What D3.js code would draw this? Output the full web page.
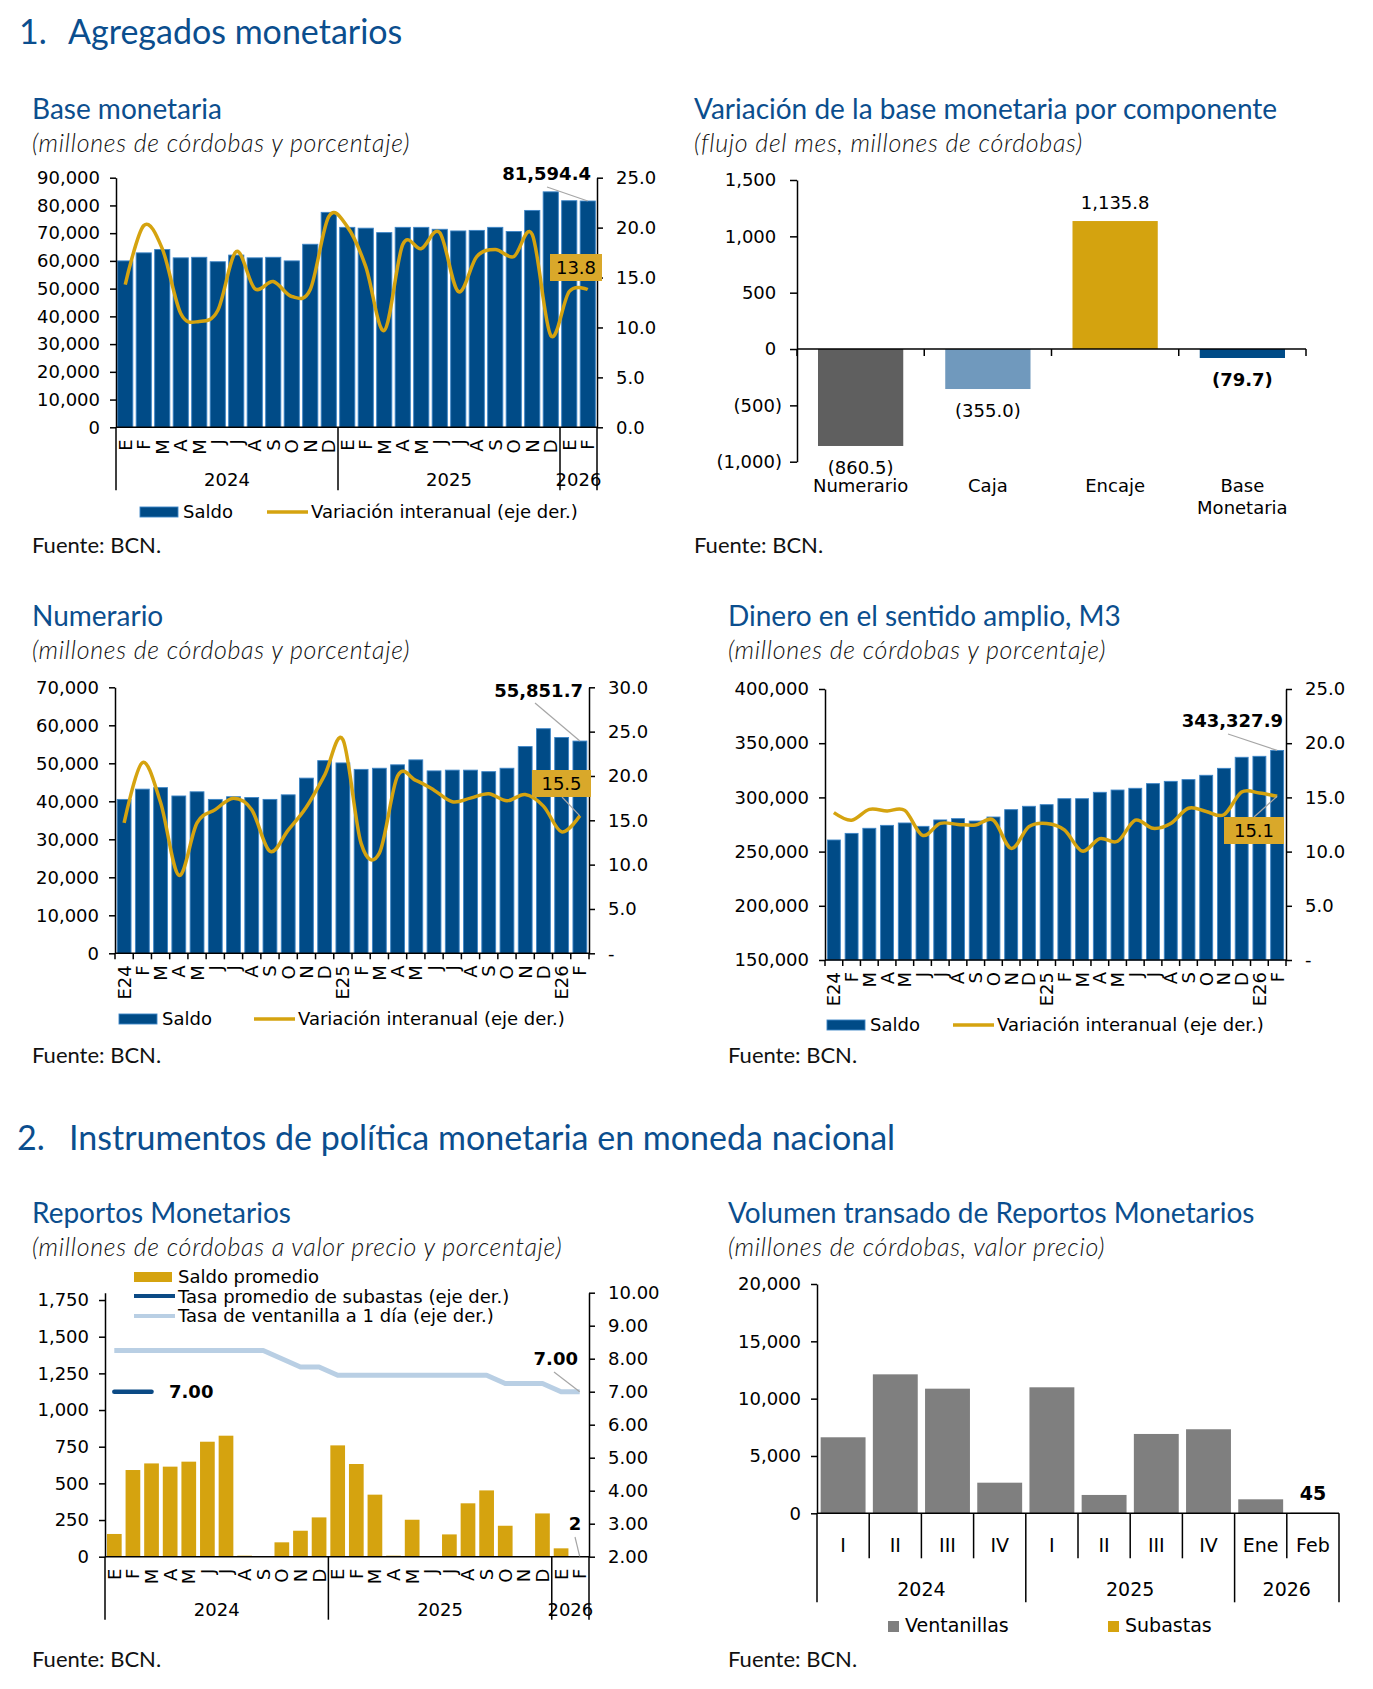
<!DOCTYPE html>
<html lang="es">
<head>
<meta charset="utf-8">
<title>Agregados monetarios</title>
<script src="https://cdn.jsdelivr.net/npm/d3@7/dist/d3.min.js"></script>
<style>
  body { margin: 0; background: #fff; }
  text { font-family: "DejaVu Sans", Verdana, sans-serif; fill: #000; }
  .seccion { font-family: Lato, sans-serif; font-size: 34px; fill: #0b4e8e; }
  .titulo { font-family: Lato, sans-serif; font-size: 28px; fill: #0b4e8e; }
  .subtitulo { font-family: Lato, sans-serif; font-size: 25px; font-style: italic; font-weight: 300; letter-spacing: 0.7px; fill: #111; }
  .fuente { font-family: Lato, sans-serif; font-size: 22px; fill: #111; }
  .tick text { font-family: "DejaVu Sans", Verdana, sans-serif; font-size: 18px; fill: #000; }
  .tick line, .domain { stroke: #000; stroke-width: 1.5; }
</style>
</head>
<body>
<svg id="hoja" width="1373" height="1689"></svg>
<script>
// datos

// meses (2024, 2025 y ene-feb 2026)
const mesesLetra = ["E","F","M","A","M","J","J","A","S","O","N","D",
                    "E","F","M","A","M","J","J","A","S","O","N","D","E","F"];
const mesesEtiq = ["E24","F","M","A","M","J","J","A","S","O","N","D",
                   "E25","F","M","A","M","J","J","A","S","O","N","D","E26","F"];
const aniosMes = ["2024","2024","2024","2024","2024","2024","2024","2024","2024","2024","2024","2024",
                  "2025","2025","2025","2025","2025","2025","2025","2025","2025","2025","2025","2025",
                  "2026","2026"];

// base monetaria
const baseSaldo = [60000,62900,64100,61100,61300,59700,62100,61100,61300,60000,66000,77500,
                   72100,71800,70200,72100,72100,71400,70800,71000,72100,70600,78200,84900,81700,81594.4];
const baseVar = [14.3,20.2,17.9,11.4,10.6,11.7,17.6,13.9,14.6,13.1,13.8,21.1,
                 20.1,16.1,9.7,18.3,17.9,19.5,13.6,17.1,17.8,17.1,19.3,9.2,13.6,13.8];

// variacion por componente
const compNombres = [["Numerario"],["Caja"],["Encaje"],["Base","Monetaria"]];
const compValores = [-860.5,-355.0,1135.8,-79.7];

// numerario
const numSaldo = [40500,43200,43600,41400,42500,40500,41200,41000,40500,41700,46100,50700,
                  50100,48400,48700,49600,50900,48000,48200,48200,47800,48700,54400,59100,56800,55851.7];
const numVar = [14.7,21.5,17.0,8.8,14.7,16.2,17.5,16.2,11.5,13.9,16.5,20.1,
                24.1,12.4,11.3,20.0,19.5,18.4,17.1,17.5,18.0,17.2,17.9,16.6,13.7,15.5];

// M3
const m3Saldo = [260700,266800,271500,274200,276400,273300,279200,280400,278200,281900,288700,291800,
                 293300,298800,298800,304700,306800,308400,312700,314800,316400,320400,326800,337000,337900,343327.9];
const m3Var = [13.6,12.9,13.9,13.75,13.8,11.5,12.6,12.5,12.45,12.9,10.3,12.3,
               12.6,12.0,10.05,11.2,10.95,12.9,12.15,12.6,14.0,13.7,13.4,15.5,15.4,15.1];

// reportos monetarios
const repSaldo = [155,591,636,614,648,784,825,7,0,98,177,268,
                  759,632,423,7,252,0,152,364,452,211,0,295,57,2];
const repSubasta = [7.00,7.00,7.00,null,null,null,null,null,null,null,null,null,
                    null,null,null,null,null,null,null,null,null,null,null,null,null,null];
const repVentanilla = [8.25,8.25,8.25,8.25,8.25,8.25,8.25,8.25,8.25,8.00,7.75,7.75,
                       7.50,7.50,7.50,7.50,7.50,7.50,7.50,7.50,7.50,7.25,7.25,7.25,7.00,7.00];

// volumen transado
const volCats = ["I","II","III","IV","I","II","III","IV","Ene","Feb"];
const volAnios = ["2024","2024","2024","2024","2025","2025","2025","2025","2026","2026"];
const volVentanillas = [6630,12120,10870,2670,10990,1600,6920,7330,1220,45];
const volSubastas = [0,0,0,0,0,0,0,0,0,0];

// colores
const azul = "#004b87";
const oro = "#d5a30f";
const caja = "#d9a82a";
const celeste = "#b9cfe4";
const compColores = ["#5f5f5f","#7099bd","#d4a30f","#004b87"];

const hoja = d3.select("#hoja");
const fmtMiles = d3.format(",");

// titulos de seccion
hoja.append("text").attr("class","seccion").attr("x",19).attr("y",44).text("1.");
hoja.append("text").attr("class","seccion").attr("x",68).attr("y",44).text("Agregados monetarios");
hoja.append("text").attr("class","seccion").attr("x",17).attr("y",1150).text("2.");
hoja.append("text").attr("class","seccion").attr("x",69).attr("y",1150)
    .text("Instrumentos de política monetaria en moneda nacional");

function encabezado(x, y, titulo, subtitulo, yFuente) {
  hoja.append("text").attr("class","titulo").attr("x",x).attr("y",y).text(titulo);
  hoja.append("text").attr("class","subtitulo").attr("x",x).attr("y",y + 33).text(subtitulo);
  hoja.append("text").attr("class","fuente").attr("x",x).attr("y",yFuente).text("Fuente: BCN.");
}

function linea(g, x1, y1, x2, y2, color, ancho) {
  return g.append("line").attr("x1",x1).attr("y1",y1).attr("x2",x2).attr("y2",y2)
    .attr("stroke",color).attr("stroke-width",ancho);
}

// grafico de barras con linea en eje derecho
function combo(c) {
  const g = hoja.append("g");
  const n = c.saldo.length;
  const x = d3.scaleBand().domain(d3.range(n)).range([c.x0, c.x1])
      .paddingInner(c.pad).paddingOuter(c.pad / 2);
  const yL = d3.scaleLinear().domain(c.yDom).range([c.yBot, c.yTop]);
  const yR = d3.scaleLinear().domain(c.y2Dom).range([c.yBot, c.yTop]);
  const cx = i => x(i) + x.bandwidth() / 2;

  if (c.barras) {
    g.append("g").selectAll("rect").data(c.saldo).join("rect")
      .attr("x",(d,i) => x(i)).attr("width",x.bandwidth())
      .attr("y",d => yL(d)).attr("height",d => yL(c.yDom[0]) - yL(d))
      .attr("fill",c.colorBarra)
      .attr("stroke",c.bordeBarra || "none").attr("stroke-width",0.9);
  }

  g.append("g").attr("transform",`translate(${c.x0},0)`)
    .call(d3.axisLeft(yL).tickValues(c.yTicks).tickFormat(fmtMiles)
      .tickSize(6).tickSizeOuter(0).tickPadding(10));
  g.append("g").attr("transform",`translate(${c.x1},0)`)
    .call(d3.axisRight(yR).tickValues(c.y2Ticks).tickFormat(c.y2Fmt)
      .tickSize(6).tickSizeOuter(0).tickPadding(13));

  linea(g, c.x0, c.yBot, c.x1, c.yBot, "#000", 1.5);

  const r0 = x.range()[0], paso = x.step();
  if (c.tipoEje === "anios") {
    g.selectAll("text.mes").data(c.meses).join("text").attr("class","mes")
      .attr("transform",(d,i) => `translate(${cx(i)},${c.yBot + 12}) rotate(-90)`)
      .attr("text-anchor","end").attr("dy","0.36em").attr("font-size",18).text(d => d);
    const grupos = d3.groups(d3.range(n), i => c.anios[i]);
    const cortes = grupos.map(gr => gr[1][0]).concat([n]);
    g.selectAll("line.sep").data(cortes).join("line").attr("class","sep")
      .attr("x1",i => r0 + i * paso).attr("x2",i => r0 + i * paso)
      .attr("y1",c.yBot).attr("y2",c.yBot + 63)
      .attr("stroke","#000").attr("stroke-width",1.5);
    g.selectAll("text.anio").data(grupos).join("text").attr("class","anio")
      .attr("x",gr => r0 + (gr[1][0] + gr[1].length / 2) * paso)
      .attr("y",c.yBot + 59).attr("text-anchor","middle").attr("font-size",18)
      .text(gr => gr[0]);
  } else {
    g.selectAll("line.marca").data(d3.range(n + 1)).join("line").attr("class","marca")
      .attr("x1",i => r0 + i * paso).attr("x2",i => r0 + i * paso)
      .attr("y1",c.yBot).attr("y2",c.yBot + 6)
      .attr("stroke","#000").attr("stroke-width",1.5);
    g.selectAll("text.mes").data(c.meses).join("text").attr("class","mes")
      .attr("transform",(d,i) => `translate(${cx(i)},${c.yBot + 12}) rotate(-90)`)
      .attr("text-anchor","end").attr("dy","0.36em").attr("font-size",18).text(d => d);
  }

  (c.lineas || []).forEach(l => {
    g.append("path").datum(l.datos)
      .attr("fill","none").attr("stroke",l.color).attr("stroke-width",l.ancho)
      .attr("stroke-linecap",l.tapa || "butt").attr("stroke-linejoin","round")
      .attr("d",d3.line().defined(d => d != null)
        .x((d,i) => cx(i)).y(d => yR(d)).curve(l.curva));
  });

  return {g, x, yL, yR, cx};
}

function leyendaSaldo(g, xs, y, xl, yl) {
  g.append("rect").attr("x",xs).attr("y",y - 5).attr("width",38).attr("height",10)
    .attr("fill",azul).attr("stroke","#3d85c6").attr("stroke-width",0.9);
  g.append("text").attr("x",xs + 43).attr("y",y + 6).attr("font-size",18).text("Saldo");
  linea(g, xl, y, xl + 41, y, oro, 3.5);
  g.append("text").attr("x",xl + 44).attr("y",y + 6).attr("font-size",18)
    .text("Variación interanual (eje der.)");
}

function cajaValor(g, x, y, ancho, texto) {
  g.append("rect").attr("x",x).attr("y",y).attr("width",ancho).attr("height",27).attr("fill",caja);
  g.append("text").attr("x",x + ancho / 2).attr("y",y + 20).attr("text-anchor","middle")
    .attr("font-size",18).text(texto);
}

const suave = d3.curveCardinal.tension(0);
const uno = d => d.toFixed(1);
const unoGuion = d => d === 0 ? "-" : d.toFixed(1);

// 1) Base monetaria
encabezado(32, 119, "Base monetaria", "(millones de córdobas y porcentaje)", 553);
const c1 = combo({
  saldo: baseSaldo, barras: true, colorBarra: azul, bordeBarra: "#3d85c6",
  x0: 116, x1: 597, yTop: 177.7, yBot: 427.3, pad: 0.18,
  yDom: [0, 90000], yTicks: d3.range(0, 90001, 10000),
  y2Dom: [0, 25], y2Ticks: d3.range(0, 26, 5), y2Fmt: uno,
  tipoEje: "anios", meses: mesesLetra, anios: aniosMes,
  lineas: [{datos: baseVar, color: oro, ancho: 3.5, curva: suave}]
});
c1.g.append("text").attr("x",591).attr("y",180).attr("text-anchor","end")
  .attr("font-size",18).attr("font-weight","bold").text(fmtMiles(baseSaldo[25]));
linea(c1.g, 547, 187, c1.cx(25), c1.yL(baseSaldo[25]), "#a6a6a6", 1.2);
cajaValor(c1.g, 550, 254, 52, uno(baseVar[25]));
leyendaSaldo(c1.g, 140, 512, 267, 512);

// 2) Variacion de la base monetaria por componente
encabezado(694, 119, "Variación de la base monetaria por componente",
           "(flujo del mes, millones de córdobas)", 553);
{
  const g = hoja.append("g");
  const x = d3.scaleBand().domain(d3.range(compValores.length)).range([797, 1306])
      .paddingInner(0.33).paddingOuter(0.165);
  const y = d3.scaleLinear().domain([-1000, 1500]).range([461.7, 180]);
  const fmtComp = v => v < 0 ? "(" + fmtMiles(-v) + ")" : fmtMiles(v) + "\u00a0";
  g.selectAll("rect").data(compValores).join("rect")
    .attr("x",(d,i) => x(i)).attr("width",x.bandwidth())
    .attr("y",d => y(Math.max(0, d))).attr("height",d => Math.abs(y(d) - y(0)))
    .attr("fill",(d,i) => compColores[i]);
  g.append("g").attr("transform","translate(797,0)")
    .call(d3.axisLeft(y).tickValues(d3.range(-1000, 1501, 500)).tickFormat(fmtComp)
      .tickSize(7).tickSizeOuter(0).tickPadding(8));
  linea(g, 797, y(0), 1306, y(0), "#000", 1.5);
  const paso = x.step();
  g.selectAll("line.marca").data(d3.range(compValores.length + 1)).join("line")
    .attr("x1",i => 797 + i * paso).attr("x2",i => 797 + i * paso)
    .attr("y1",y(0)).attr("y2",y(0) + 7).attr("stroke","#000").attr("stroke-width",1.5);
  const fmtEtq = d3.format(",.1f");
  g.selectAll("text.valor").data(compValores).join("text")
    .attr("x",(d,i) => x(i) + x.bandwidth() / 2)
    .attr("y",d => d >= 0 ? y(d) - 12 : y(d) + 28)
    .attr("text-anchor","middle").attr("font-size",18)
    .attr("font-weight",(d,i) => i === compValores.length - 1 ? "bold" : "normal")
    .text(d => d < 0 ? "(" + fmtEtq(-d) + ")" : fmtEtq(d));
  compNombres.forEach((nom, i) => {
    nom.forEach((t, k) => {
      g.append("text").attr("x",x(i) + x.bandwidth() / 2).attr("y",492 + k * 22)
        .attr("text-anchor","middle").attr("font-size",18).text(t);
    });
  });
}

// 3) Numerario
encabezado(32, 626, "Numerario", "(millones de córdobas y porcentaje)", 1063);
const c3 = combo({
  saldo: numSaldo, barras: true, colorBarra: azul, bordeBarra: "#3d85c6",
  x0: 115, x1: 589, yTop: 687.3, yBot: 953.3, pad: 0.24,
  yDom: [0, 70000], yTicks: d3.range(0, 70001, 10000),
  y2Dom: [0, 30], y2Ticks: d3.range(0, 31, 5), y2Fmt: unoGuion,
  tipoEje: "marcas", meses: mesesEtiq,
  lineas: [{datos: numVar, color: oro, ancho: 3.5, curva: suave}]
});
c3.g.append("text").attr("x",583).attr("y",697).attr("text-anchor","end")
  .attr("font-size",18).attr("font-weight","bold").text(fmtMiles(numSaldo[25]));
linea(c3.g, 535, 703, c3.cx(25), c3.yL(numSaldo[25]), "#a6a6a6", 1.2);
linea(c3.g, 562, 797, c3.cx(25), c3.yR(numVar[25]), "#a6a6a6", 1.2);
cajaValor(c3.g, 532, 770, 59, uno(numVar[25]));
leyendaSaldo(c3.g, 119, 1019, 254, 1019);

// 4) Dinero en el sentido amplio, M3
encabezado(728, 626, "Dinero en el sentido amplio, M3", "(millones de córdobas y porcentaje)", 1063);
const c4 = combo({
  saldo: m3Saldo, barras: true, colorBarra: azul, bordeBarra: "#3d85c6",
  x0: 825, x1: 1286, yTop: 689, yBot: 960, pad: 0.27,
  yDom: [150000, 400000], yTicks: d3.range(150000, 400001, 50000),
  y2Dom: [0, 25], y2Ticks: d3.range(0, 26, 5), y2Fmt: unoGuion,
  tipoEje: "marcas", meses: mesesEtiq,
  lineas: [{datos: m3Var, color: oro, ancho: 3.5, curva: suave}]
});
c4.g.append("text").attr("x",1283).attr("y",727).attr("text-anchor","end")
  .attr("font-size",18).attr("font-weight","bold").text(fmtMiles(m3Saldo[25]));
linea(c4.g, 1228, 734, c4.cx(25), c4.yL(m3Saldo[25]), "#a6a6a6", 1.2);
linea(c4.g, 1254, 817, c4.cx(25), c4.yR(m3Var[25]), "#a6a6a6", 1.2);
cajaValor(c4.g, 1224, 817, 60, uno(m3Var[25]));
leyendaSaldo(c4.g, 827, 1025, 953, 1025);

// 5) Reportos monetarios
encabezado(32, 1223, "Reportos Monetarios",
           "(millones de córdobas a valor precio y porcentaje)", 1667);
const c5 = combo({
  saldo: repSaldo, barras: true, colorBarra: oro,
  x0: 105, x1: 589, yTop: 1292.7, yBot: 1556.7, pad: 0.21,
  yDom: [0, 1800], yTicks: d3.range(0, 1751, 250),
  y2Dom: [2, 10], y2Ticks: d3.range(2, 10.01, 1), y2Fmt: d => d.toFixed(2),
  tipoEje: "anios", meses: mesesLetra, anios: aniosMes,
  lineas: [
    {datos: repVentanilla, color: celeste, ancho: 5, curva: d3.curveLinear},
    {datos: repSubasta, color: "#0b4a85", ancho: 4.5, curva: d3.curveLinear, tapa: "round"}
  ]
});
c5.g.append("text").attr("x",578).attr("y",1365).attr("text-anchor","end")
  .attr("font-size",18).attr("font-weight","bold").text(repVentanilla[25].toFixed(2));
linea(c5.g, 554, 1372, c5.cx(25), c5.yR(repVentanilla[25]), "#a6a6a6", 1.2);
c5.g.append("text").attr("x",169).attr("y",1398)
  .attr("font-size",18).attr("font-weight","bold").text(repSubasta[0].toFixed(2));
c5.g.append("text").attr("x",575).attr("y",1530).attr("text-anchor","middle")
  .attr("font-size",18).attr("font-weight","bold").text(repSaldo[25]);
linea(c5.g, 575, 1537, c5.cx(25), c5.yL(repSaldo[25]), "#a6a6a6", 1.2);
// leyenda
c5.g.append("rect").attr("x",134).attr("y",1272).attr("width",38).attr("height",10).attr("fill",oro);
c5.g.append("text").attr("x",178).attr("y",1283).attr("font-size",18).text("Saldo promedio");
linea(c5.g, 134, 1296, 175, 1296, "#0b4a85", 4);
c5.g.append("text").attr("x",178).attr("y",1303).attr("font-size",18)
  .text("Tasa promedio de subastas (eje der.)");
linea(c5.g, 134, 1316, 175, 1316, celeste, 4);
c5.g.append("text").attr("x",178).attr("y",1322).attr("font-size",18)
  .text("Tasa de ventanilla a 1 día (eje der.)");

// 6) Volumen transado de reportos monetarios
encabezado(728, 1223, "Volumen transado de Reportos Monetarios",
           "(millones de córdobas, valor precio)", 1667);
{
  const g = hoja.append("g");
  const n = volCats.length;
  const x = d3.scaleBand().domain(d3.range(n)).range([817, 1339])
      .paddingInner(0.14).paddingOuter(0.07);
  const y = d3.scaleLinear().domain([0, 20000]).range([1513.3, 1284]);
  const tabla = volCats.map((c, i) => ({i: i, Ventanillas: volVentanillas[i], Subastas: volSubastas[i]}));
  const pila = d3.stack().keys(["Ventanillas","Subastas"])(tabla);
  const colores = {Ventanillas: "#7f7f7f", Subastas: "#d5a30f"};
  g.selectAll("g.serie").data(pila).join("g").attr("fill",s => colores[s.key])
    .selectAll("rect").data(s => s).join("rect")
    .attr("x",d => x(d.data.i)).attr("width",x.bandwidth())
    .attr("y",d => y(d[1])).attr("height",d => y(d[0]) - y(d[1]));
  g.append("g").attr("transform","translate(817,0)")
    .call(d3.axisLeft(y).tickValues(d3.range(0, 20001, 5000)).tickFormat(fmtMiles)
      .tickSize(6).tickSizeOuter(0).tickPadding(10));
  linea(g, 817, y(0), 1339, y(0), "#000", 1.5);
  const paso = x.step();
  const grupos = d3.groups(d3.range(n), i => volAnios[i]);
  const cortes = new Set(grupos.map(gr => gr[1][0]).concat([n]));
  g.selectAll("line.sep").data(d3.range(n + 1)).join("line")
    .attr("x1",i => 817 + i * paso).attr("x2",i => 817 + i * paso)
    .attr("y1",y(0)).attr("y2",i => cortes.has(i) ? y(0) + 89 : y(0) + 45)
    .attr("stroke","#000").attr("stroke-width",1.5);
  g.selectAll("text.cat").data(volCats).join("text")
    .attr("x",(d,i) => x(i) + x.bandwidth() / 2).attr("y",y(0) + 39)
    .attr("text-anchor","middle").attr("font-size",19).text(d => d);
  g.selectAll("text.anio").data(grupos).join("text")
    .attr("x",gr => 817 + (gr[1][0] + gr[1].length / 2) * paso).attr("y",y(0) + 83)
    .attr("text-anchor","middle").attr("font-size",19).text(gr => gr[0]);
  g.append("text").attr("x",x(n - 1) + x.bandwidth() / 2).attr("y",1500)
    .attr("text-anchor","middle").attr("font-size",19).attr("font-weight","bold")
    .text(volVentanillas[n - 1] + volSubastas[n - 1]);
  // leyenda
  g.append("rect").attr("x",888).attr("y",1621).attr("width",11).attr("height",11).attr("fill","#7f7f7f");
  g.append("text").attr("x",905).attr("y",1632).attr("font-size",19).text("Ventanillas");
  g.append("rect").attr("x",1108).attr("y",1621).attr("width",11).attr("height",11).attr("fill","#d5a30f");
  g.append("text").attr("x",1125).attr("y",1632).attr("font-size",19).text("Subastas");
}
</script>
</body>
</html>
